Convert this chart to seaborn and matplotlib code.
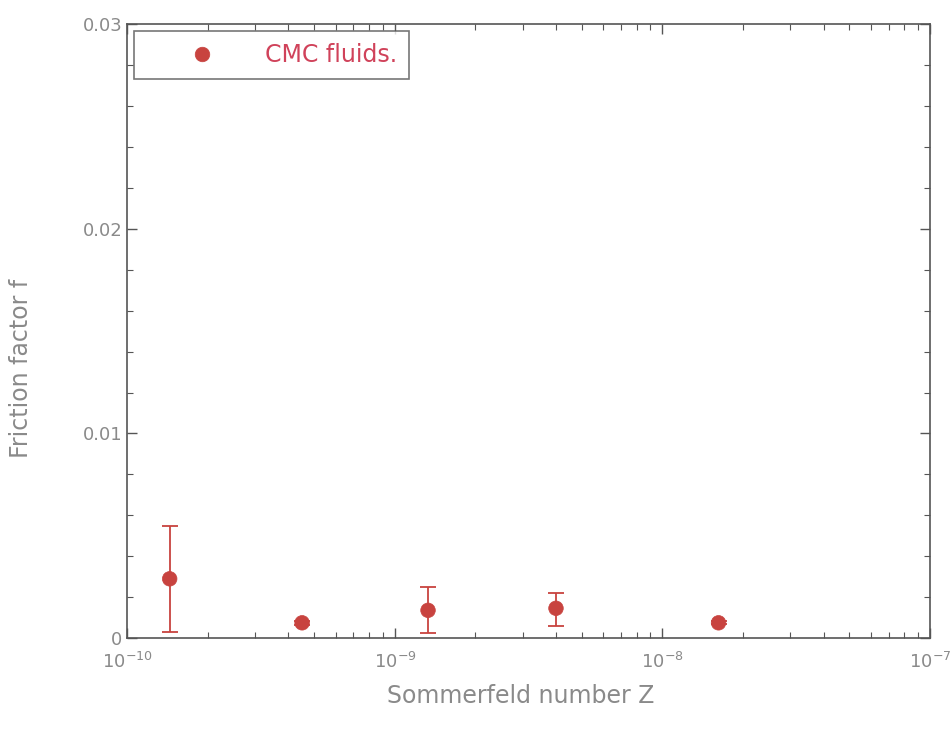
import matplotlib
matplotlib.use("Agg")
import matplotlib.pyplot as plt
import matplotlib.ticker as mticker
import seaborn as sns
import pandas as pd
import numpy as np

# Data
sommerfeld = [1.44e-10, 4.5e-10, 1.33e-9, 4.0e-9, 1.62e-8]
friction = [0.0029, 0.00075, 0.00136, 0.00146, 0.00075]
err_low = [0.0026, 0.00010, 0.00112, 0.00088, 0.00008]
err_high = [0.0026, 0.00010, 0.00112, 0.00077, 0.00008]
series_name = "CMC fluids."
y_ticks = [0, 0.01, 0.02, 0.03]
y_tick_labels = ["0", "0.01", "0.02", "0.03"]
x_ticks = [1e-10, 1e-9, 1e-8, 1e-7]
x_tick_labels = [r"$10^{-10}$", r"$10^{-9}$", r"$10^{-8}$", r"$10^{-7}$"]

df = pd.DataFrame({"Z": sommerfeld, "f": friction, "series": series_name})

sns.set_theme(style="white")
plt.rcParams["font.family"] = ["DejaVu Sans"]
plt.rcParams["mathtext.fontset"] = "dejavusans"

point_color = "#c8433f"
text_gray = "#8a8a8a"
axis_gray = "#555555"

fig = plt.figure(figsize=(9.5, 7.31), dpi=100)
ax = fig.add_axes([0.134, 0.127, 0.845, 0.840])

ax.errorbar(sommerfeld, friction, yerr=[err_low, err_high], fmt="none",
            ecolor=point_color, elinewidth=1.3, capsize=6, capthick=1.3, zorder=2)
sns.scatterplot(data=df, x="Z", y="f", hue="series", palette=[point_color],
                s=110, edgecolor=point_color, linewidth=0.5, ax=ax, zorder=3)

ax.set_xscale("log")
ax.set_xlim(1e-10, 1e-7)
ax.set_ylim(0, 0.03)
ax.set_xticks(x_ticks)
ax.set_xticklabels(x_tick_labels)
ax.set_yticks(y_ticks)
ax.set_yticklabels(y_tick_labels)
ax.xaxis.set_minor_locator(mticker.LogLocator(base=10, subs=np.arange(2, 10)))
ax.yaxis.set_minor_locator(mticker.MultipleLocator(0.002))
ax.xaxis.set_minor_formatter(mticker.NullFormatter())

ax.tick_params(which="both", direction="in", top=True, right=True,
               bottom=True, left=True,
               color=axis_gray, labelcolor=text_gray, labelsize=13)
ax.tick_params(which="major", length=7, width=1)
ax.tick_params(which="minor", length=4, width=0.8)
ax.tick_params(axis="x", pad=10)

for sp in ax.spines.values():
    sp.set_color(axis_gray)
    sp.set_linewidth(1.2)

ax.set_xlabel("Sommerfeld number Z", color=text_gray, fontsize=17)
ax.set_ylabel("Friction factor f", color=text_gray, fontsize=17)
ax.xaxis.set_label_coords(0.49, -0.075)
ax.yaxis.set_label_coords(-0.118, 0.44)

leg = ax.legend(loc="upper left", frameon=True, fancybox=False, fontsize=17,
                borderpad=0.5, handletextpad=0.3, borderaxespad=0.3,
                markerscale=1.0, handlelength=4.75)
leg.get_frame().set_edgecolor(axis_gray)
leg.get_frame().set_linewidth(1.2)
for t in leg.get_texts():
    t.set_color("#d0425a")
leg._legend_box.sep = 0

fig.savefig("out.png", dpi=100)
